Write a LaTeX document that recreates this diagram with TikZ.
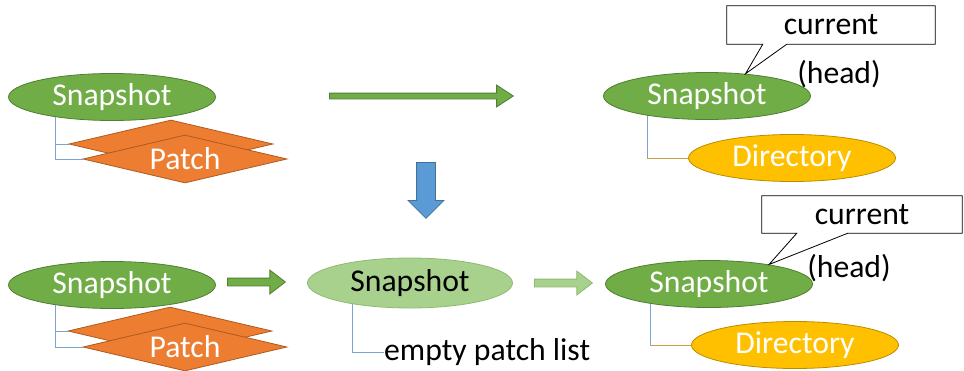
\documentclass[tikz,border=0pt]{standalone}
\usepackage{fontspec}
\setmainfont{Carlito}
\usetikzlibrary{shapes.geometric,shapes.arrows,backgrounds}
\definecolor{snapgreen}{HTML}{70AD47}
\definecolor{snapedge}{HTML}{507E32}
\definecolor{lightgreen}{HTML}{A9D18E}
\definecolor{lightedge}{HTML}{8DBA70}
\definecolor{patchorange}{HTML}{ED7D31}
\definecolor{patchedge}{HTML}{AE5A21}
\definecolor{dirgold}{HTML}{FFC000}
\definecolor{diredge}{HTML}{BC8C00}
\definecolor{stepblue}{HTML}{5B9BD5}
\definecolor{stepedge}{HTML}{41719C}
\definecolor{linkblue}{HTML}{7AA3CF}
\definecolor{linkgold}{HTML}{C9A048}
\begin{document}
\begin{tikzpicture}[x=1pt, y=-1pt,
  txt/.style={font=\fontsize{31.7}{37}\selectfont},
  snap/.style={ellipse, draw=snapedge, fill=snapgreen, line width=0.8pt,
    minimum width=207pt, minimum height=47pt, inner sep=0pt, text=white, txt},
  patch/.style={diamond, draw=patchedge, fill=patchorange, line width=0.8pt,
    minimum width=204pt, minimum height=48pt, inner sep=0pt},
  dir/.style={ellipse, draw=diredge, fill=dirgold, line width=0.8pt,
    minimum width=207pt, minimum height=47pt, inner sep=0pt, text=white, txt},
  callbox/.style={minimum height=38pt, inner sep=0pt, txt},
  callline/.style={draw=black, line width=0.8pt, line join=miter},
  link/.style={draw=linkblue, line width=0.8pt},
  dirlink/.style={draw=linkgold, line width=0.8pt},
  blockarrow/.style={single arrow, draw=snapedge, fill=snapgreen, line width=0.8pt,
    inner xsep=0pt, anchor=tail},
]
  \useasboundingbox (0,0) rectangle (964,370);

  % Top left: snapshot with patches
  \node[snap] (snapTL) at (112,97) {Snapshot};
  \node[patch] (patchTLa) at (171,144) {};
  \node[patch, label={[txt, text=white]center:Patch}] (patchTLb) at (185,159) {};

  % Top arrow
  \node[blockarrow, minimum height=184pt, inner ysep=2.5pt,
    single arrow head extend=8pt, single arrow tip angle=66] (stepT) at (329,96) {};

  % Top right: snapshot with directory
  \node[snap] (snapTR) at (707,96) {Snapshot};
  \node[dir] (dirTR) at (792,158) {Directory};
  \node[callbox, minimum width=208pt] (curTR) at (831,25) {current};
  \draw[callline] (curTR.south west) -- (curTR.north west) -- (curTR.north east)
    -- (curTR.south east) -- ([xshift=60pt]curTR.south west) -- (snapTR.30)
    -- ([xshift=36pt]curTR.south west) -- cycle;
  \node[txt, inner sep=0pt] (headTR) at (839,74) {(head)};

  % Down arrow
  \node[blockarrow, draw=stepedge, fill=stepblue, rotate=-90, minimum height=56pt,
    inner ysep=9pt, single arrow head extend=8.5pt, single arrow tip angle=90] (stepD) at (426,162) {};

  % Bottom left: snapshot with patches
  \node[snap] (snapBL) at (112,285) {Snapshot};
  \node[patch] (patchBLa) at (170,331) {};
  \node[patch, label={[txt, text=white]center:Patch}] (patchBLb) at (185,347) {};

  \node[blockarrow, minimum height=58pt, inner ysep=3.5pt,
    single arrow head extend=8pt, single arrow tip angle=75] (stepBL) at (227,282) {};

  % Bottom middle: snapshot with empty patch list
  \node[snap, draw=lightedge, fill=lightgreen, text=black, minimum width=205pt,
    minimum height=50pt] (snapBM) at (410,283) {Snapshot};
  \node[txt, anchor=west, inner sep=0pt] (emptyBM) at (384,352) {empty patch list};

  \node[blockarrow, draw=lightedge, fill=lightgreen, minimum height=58pt, inner ysep=3.5pt,
    single arrow head extend=8pt, single arrow tip angle=75] (stepBM) at (534,283) {};

  % Bottom right: snapshot with directory
  \node[snap] (snapBR) at (709,284) {Snapshot};
  \node[dir] (dirBR) at (795,345) {Directory};
  \node[callbox, minimum width=200pt, minimum height=37pt] (curBR) at (862,214.5) {current};
  \draw[callline] (curBR.south west) -- (curBR.north west) -- (curBR.north east)
    -- (curBR.south east) -- ([xshift=86pt]curBR.south west) -- (snapBR.18)
    -- ([xshift=35pt]curBR.south west) -- cycle;
  \node[txt, inner sep=0pt] (headBR) at (849,268) {(head)};

  % Links
  \begin{scope}[on background layer]
    \draw[link] ([xshift=-57pt]snapTL.center) |- (patchTLa.west);
    \draw[link] ([xshift=-57pt]snapTL.center) |- (patchTLb.west);
    \draw[link] ([xshift=-57pt]snapBL.center) |- (patchBLa.west);
    \draw[link] ([xshift=-57pt]snapBL.center) |- (patchBLb.west);
    \draw[link] ([xshift=-58pt]snapBM.center) |- (emptyBM.west);
    \draw[link] ([xshift=-60pt]snapTR.center) |- coordinate[pos=0.5] (cornerTR) (dirTR.west);
    \draw[dirlink] (cornerTR) -- (dirTR.west);
    \draw[link] ([xshift=-59pt]snapBR.center) |- coordinate[pos=0.5] (cornerBR) (dirBR.west);
    \draw[dirlink] (cornerBR) -- (dirBR.west);
  \end{scope}
\end{tikzpicture}
\end{document}
